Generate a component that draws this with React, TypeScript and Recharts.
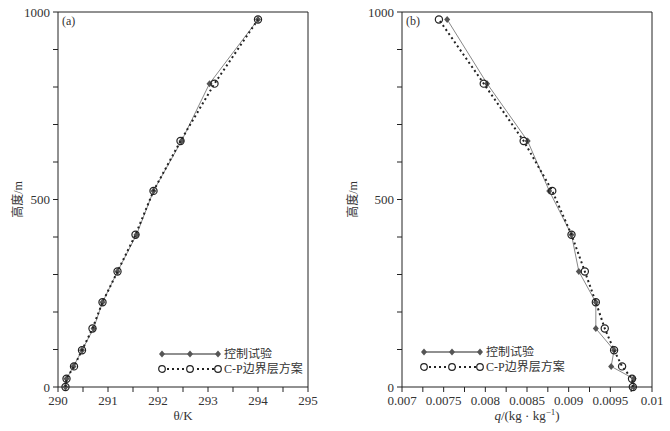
import React from 'react'
import { ScatterChart, Scatter, XAxis, YAxis, ReferenceLine, Label } from 'recharts'

// model levels (m) shared by both panels
const heights = [0, 22, 55, 98, 156, 226, 308, 406, 523, 656, 809, 980]

// (a) potential temperature, K
const thetaControl = [290.15, 290.17, 290.31, 290.48, 290.71, 290.89, 291.19, 291.57, 291.91, 292.47, 293.03, 294.0]
const thetaCP = [290.15, 290.17, 290.32, 290.48, 290.69, 290.89, 291.19, 291.55, 291.91, 292.45, 293.13, 294.0]

// (b) specific humidity, kg/kg
const qControl = [0.00978, 0.00978, 0.00951, 0.009545, 0.009326, 0.009326, 0.009122, 0.009034, 0.008767, 0.008508, 0.008021, 0.007542]
const qCP = [0.00977, 0.00976, 0.009641, 0.009545, 0.009433, 0.009326, 0.009194, 0.009034, 0.008803, 0.00846, 0.007981, 0.007443]

const heightTicks = [0, 100, 200, 300, 400, 500, 600, 700, 800, 900, 1000]
const heightTickLabels = ['0', '', '', '', '', '500', '', '', '', '', '1000']
const thetaTicks = [290, 290.5, 291, 291.5, 292, 292.5, 293, 293.5, 294, 294.5, 295]
const thetaTickLabels = ['290', '', '291', '', '292', '', '293', '', '294', '', '295']
const qTicks = [0.007, 0.00725, 0.0075, 0.00775, 0.008, 0.00825, 0.0085, 0.00875, 0.009, 0.00925, 0.0095, 0.00975, 0.01]
const qTickLabels = ['0.007', '', '0.0075', '', '0.008', '', '0.0085', '', '0.009', '', '0.0095', '', '0.01']

const SERIF = '"Liberation Serif", "Times New Roman", serif'
const CJK = '"Liberation Serif", "Noto Sans CJK SC", serif'
const AXIS = '#222'
const TEXT = '#333'

const toPoints = (xs: number[]) => xs.map((x, i) => ({ x, y: heights[i] }))

const Diamond = (p: any) => (
  <path
    d={`M${p.cx},${p.cy - 3.5}L${p.cx + 3},${p.cy}L${p.cx},${p.cy + 3.5}L${p.cx - 3},${p.cy}Z`}
    fill="#555"
  />
)

const Ring = (p: any) => (
  <circle cx={p.cx} cy={p.cy} r={3.6} fill="none" stroke="#222" strokeWidth={1.2} />
)

const tickStyle = { fontSize: 13, fontFamily: SERIF, fill: TEXT }

function YLabel(props: any) {
  const vb = props.viewBox
  const cx = vb.x + 18
  const cy = vb.y + vb.height / 2
  return (
    <text
      x={cx}
      y={cy}
      transform={`rotate(-90 ${cx} ${cy})`}
      textAnchor="middle"
      dominantBaseline="central"
      fontSize={12}
      fontFamily={CJK}
      fill={TEXT}
    >
      高度/m
    </text>
  )
}

function ThetaLabel(props: any) {
  const vb = props.viewBox
  return (
    <text x={vb.x + vb.width / 2} y={vb.y + 33} textAnchor="middle" fontSize={13} fontFamily={SERIF} fill={TEXT}>
      θ/K
    </text>
  )
}

function QLabel(props: any) {
  const vb = props.viewBox
  return (
    <text x={vb.x + vb.width / 2} y={vb.y + 33} textAnchor="middle" fontSize={13} fontFamily={SERIF} fill={TEXT}>
      <tspan fontStyle="italic">q</tspan>
      <tspan>/(kg · kg</tspan>
      <tspan dy={-5} fontSize={9}>−1</tspan>
      <tspan dy={5}>)</tspan>
    </text>
  )
}

function LegendBox({ left, top }: { left: number; top: number }) {
  return (
    <svg style={{ position: 'absolute', left, top }} width={180} height={30}>
      <line x1={4} y1={6} x2={60} y2={6} stroke="#222" strokeWidth={1.2} />
      {[4, 32, 60].map((x) => (
        <Diamond key={x} cx={x} cy={6} />
      ))}
      <text x={66} y={10} fontSize={12} fontFamily={CJK} fill={TEXT}>
        控制试验
      </text>
      <line x1={4} y1={21} x2={60} y2={21} stroke="#222" strokeWidth={2} strokeDasharray="2 3" />
      {[4, 32, 60].map((x) => (
        <circle key={x} cx={x} cy={21} r={3.3} fill="#fff" stroke="#222" strokeWidth={1.2} />
      ))}
      <text x={66} y={25} fontSize={12} fontFamily={CJK} fill={TEXT}>
        C-P边界层方案
      </text>
    </svg>
  )
}

function Panel(props: {
  tag: string
  control: number[]
  cp: number[]
  domain: [number, number]
  ticks: number[]
  tickLabels: string[]
  yWidth: number
  right: number
  xLabel: (p: any) => React.ReactElement
}) {
  const { tag, control, cp, domain, ticks, tickLabels, yWidth, right, xLabel } = props
  return (
    <ScatterChart width={335} height={431} margin={{ top: 12, right, bottom: 0, left: 0 }}>
      <XAxis
        type="number"
        dataKey="x"
        domain={domain}
        ticks={ticks}
        interval={0}
        allowDataOverflow
        tickFormatter={(_v: number, i: number) => tickLabels[i]}
        height={44}
        tickSize={5}
        tickMargin={4}
        tick={tickStyle}
        stroke={AXIS}
        tickLine={{ stroke: AXIS }}
      >
        <Label content={xLabel} />
      </XAxis>
      <YAxis
        type="number"
        dataKey="y"
        domain={[0, 1000]}
        ticks={heightTicks}
        interval={0}
        tickFormatter={(_v: number, i: number) => heightTickLabels[i]}
        width={yWidth}
        tickSize={5}
        tickMargin={3}
        tick={tickStyle}
        stroke={AXIS}
        tickLine={{ stroke: AXIS }}
      >
        <Label content={YLabel} />
      </YAxis>
      <ReferenceLine
        y={1000}
        stroke={AXIS}
        label={{ value: tag, position: 'insideTopLeft', offset: 4, fontSize: 12, fontFamily: SERIF, fill: TEXT }}
      />
      <ReferenceLine x={domain[1]} stroke={AXIS} />
      <Scatter
        data={toPoints(control)}
        fill="#555"
        line={{ stroke: '#888', strokeWidth: 1 }}
        lineType="joint"
        shape={Diamond}
        isAnimationActive={false}
      />
      <Scatter
        data={toPoints(cp)}
        fill="#222"
        line={{ stroke: '#222', strokeWidth: 2, strokeDasharray: '2 3' }}
        lineType="joint"
        shape={Ring}
        isAnimationActive={false}
      />
    </ScatterChart>
  )
}

export default function App() {
  return (
    <div style={{ position: 'absolute', left: 0, top: 0, width: 670, height: 431, background: '#fff' }}>
      <div style={{ position: 'absolute', left: 0, top: 0 }}>
        <Panel
          tag="(a)"
          control={thetaControl}
          cp={thetaCP}
          domain={[290, 295]}
          ticks={thetaTicks}
          tickLabels={thetaTickLabels}
          yWidth={58}
          right={27}
          xLabel={ThetaLabel}
        />
      </div>
      <div style={{ position: 'absolute', left: 335, top: 0 }}>
        <Panel
          tag="(b)"
          control={qControl}
          cp={qCP}
          domain={[0.007, 0.01]}
          ticks={qTicks}
          tickLabels={qTickLabels}
          yWidth={67}
          right={18}
          xLabel={QLabel}
        />
      </div>
      <LegendBox left={158} top={348} />
      <LegendBox left={420} top={346} />
    </div>
  )
}
